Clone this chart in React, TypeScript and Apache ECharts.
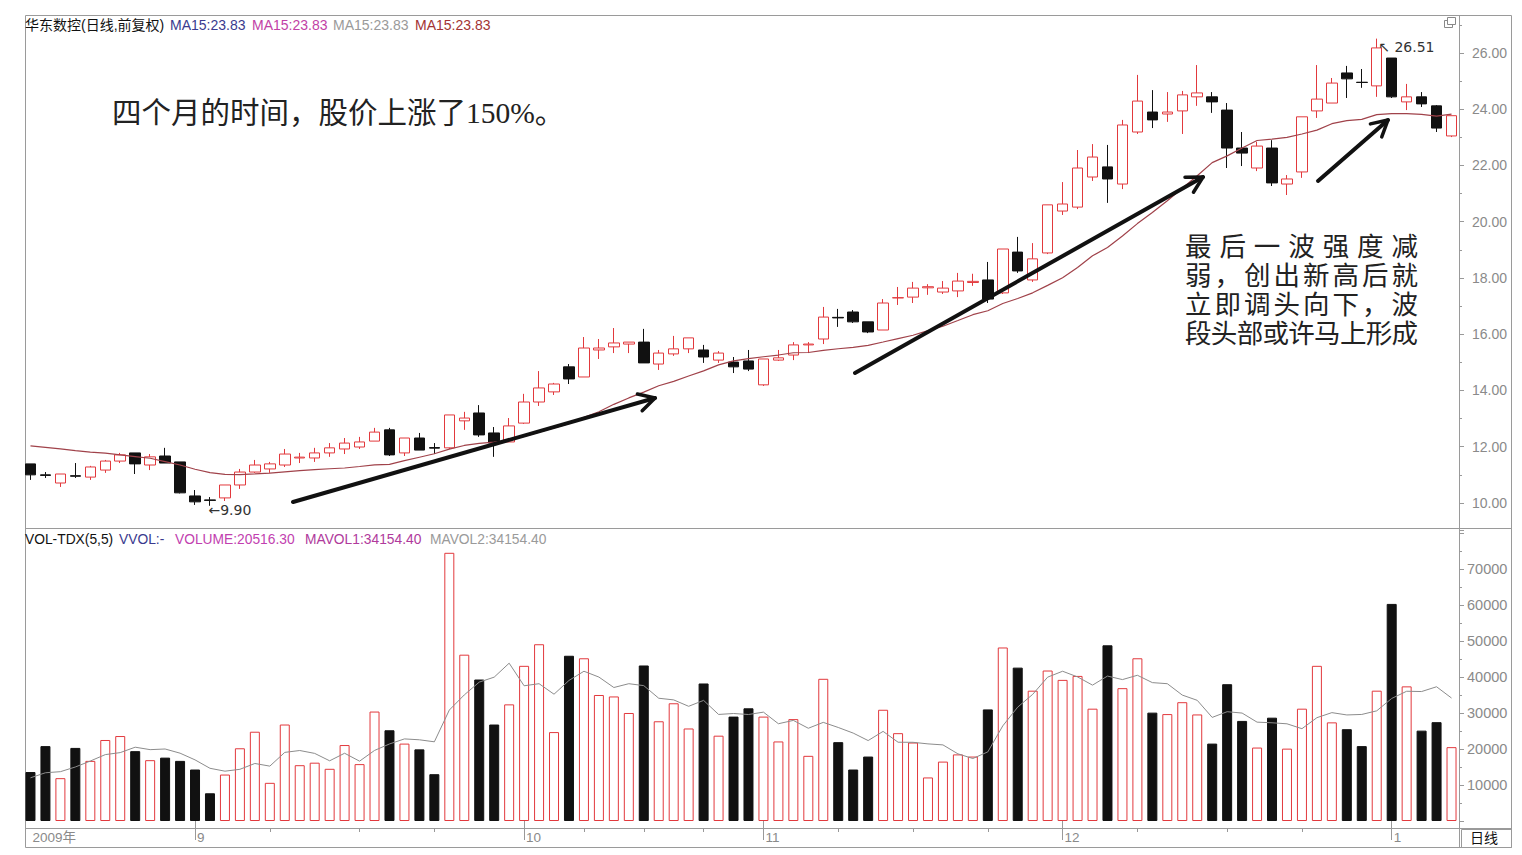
import React, { useEffect, useRef } from 'react';
import * as echarts from 'echarts';

// ---------- data ----------
const opens = [11.39, 11.00, 10.71, 10.97, 10.92, 11.17, 11.49, 11.78, 11.35, 11.67,
  11.46, 10.25, 10.11, 10.18, 10.64, 11.10, 11.21, 11.35, 11.60, 11.60,
  11.78, 11.92, 11.99, 12.20, 12.60, 11.78, 12.31, 11.97, 11.96, 12.92,
  13.20, 12.49, 12.17, 12.84, 13.59, 13.95, 14.84, 14.48, 15.44, 15.55,
  15.65, 15.72, 14.94, 15.30, 15.48, 15.44, 15.08, 15.01, 15.05, 14.20,
  15.08, 15.26, 15.62, 15.83, 16.60, 16.79, 16.44, 16.15, 17.29, 17.32,
  17.65, 17.50, 17.54, 17.84, 17.93, 17.47, 18.92, 17.93, 18.89, 20.38,
  20.52, 21.59, 21.95, 21.34, 23.19, 23.90, 23.83, 23.94, 24.44, 24.44,
  23.97, 22.62, 21.91, 22.62, 21.34, 21.77, 23.94, 24.22, 25.29, 24.96,
  24.83, 25.82, 24.26, 24.44, 24.12, 23.05];
const closes = [11.00, 10.98, 11.03, 10.95, 11.28, 11.49, 11.71, 11.39, 11.64, 11.42,
  10.36, 10.04, 10.09, 10.64, 11.10, 11.35, 11.39, 11.74, 11.63, 11.78,
  11.96, 12.13, 12.17, 12.52, 11.71, 12.31, 11.88, 11.95, 13.13, 13.02,
  12.42, 12.13, 12.74, 13.59, 14.09, 14.23, 14.41, 15.51, 15.51, 15.69,
  15.72, 14.98, 15.33, 15.48, 15.87, 15.19, 15.33, 14.84, 14.76, 15.12,
  15.16, 15.62, 15.65, 16.61, 16.58, 16.44, 16.08, 17.11, 17.30, 17.64,
  17.69, 17.64, 17.89, 17.88, 17.25, 19.03, 18.25, 18.68, 20.60, 20.63,
  21.91, 22.30, 21.52, 23.44, 24.29, 23.62, 23.90, 24.51, 24.58, 24.26,
  22.62, 22.44, 22.69, 21.38, 21.52, 23.73, 24.36, 24.93, 25.08, 24.95,
  26.18, 24.44, 24.44, 24.19, 23.33, 23.77];
const lows = [10.82, 10.89, 10.57, 10.89, 10.82, 11.07, 11.42, 11.03, 11.17, 11.42,
  10.34, 9.93, 9.90, 10.07, 10.50, 11.07, 11.07, 11.28, 11.42, 11.46,
  11.64, 11.74, 11.92, 12.20, 11.67, 11.67, 11.88, 11.74, 11.92, 12.60,
  12.35, 11.64, 12.17, 12.81, 13.45, 13.84, 14.23, 14.48, 15.12, 15.33,
  15.33, 14.98, 14.73, 15.23, 15.33, 14.98, 14.98, 14.62, 14.69, 14.16,
  15.05, 15.08, 15.33, 15.65, 16.26, 16.40, 16.04, 16.15, 17.04, 17.11,
  17.40, 17.43, 17.32, 17.72, 17.11, 17.43, 18.18, 17.86, 18.85, 20.24,
  20.45, 21.45, 20.67, 21.16, 23.12, 23.33, 23.55, 23.12, 24.12, 23.87,
  21.91, 21.98, 21.80, 21.27, 20.95, 21.56, 23.69, 24.22, 24.40, 24.76,
  24.44, 24.40, 23.97, 24.08, 23.19, 23.01];
const highs = [11.39, 11.10, 11.03, 11.42, 11.32, 11.53, 11.78, 11.78, 11.74, 11.96,
  11.46, 10.46, 10.21, 10.64, 11.21, 11.53, 11.46, 11.92, 11.78, 11.96,
  12.13, 12.31, 12.35, 12.67, 12.67, 12.31, 12.49, 12.13, 13.13, 13.24,
  13.48, 12.70, 13.02, 13.88, 14.69, 14.27, 14.94, 15.90, 15.83, 16.22,
  15.72, 16.19, 15.44, 15.94, 15.87, 15.62, 15.40, 15.19, 15.44, 15.12,
  15.44, 15.72, 15.72, 16.97, 16.90, 16.86, 16.44, 17.25, 17.68, 17.86,
  17.78, 17.89, 18.18, 18.15, 18.57, 19.03, 19.46, 19.24, 20.60, 21.41,
  22.55, 22.76, 22.73, 23.62, 25.22, 24.68, 24.61, 24.65, 25.57, 24.61,
  24.22, 23.19, 22.84, 22.90, 21.66, 23.73, 25.57, 25.11, 25.54, 25.43,
  26.51, 25.82, 24.90, 24.61, 24.15, 23.77];
const volumes = [13600, 20800, 11900, 20300, 16700, 22500, 23600, 19400, 16900, 17600,
  16700, 14300, 7700, 12900, 20200, 24800, 10600, 26800, 15500, 16200,
  14500, 21100, 15800, 30400, 25200, 21500, 19900, 13000, 74500, 46200,
  39300, 26800, 32400, 43100, 49100, 24700, 45900, 45200, 35000, 34600,
  30000, 43200, 27700, 32700, 25700, 38200, 23700, 29000, 31300, 29000,
  22100, 28300, 18100, 39500, 21900, 14300, 17900, 30900, 24400, 21800,
  12100, 16500, 18500, 17900, 31000, 48200, 42600, 36200, 41800, 39200,
  40300, 31200, 48800, 36900, 45200, 30100, 29700, 33000, 29600, 21500,
  38000, 27800, 20400, 28700, 20100, 31200, 43100, 27400, 25500, 20800,
  36200, 60300, 37400, 25100, 27455.7, 20516.3];
// moving-average values for the first bars (their history lies before the window)
const ma15Head = [12.03, 11.98, 11.92, 11.86, 11.81, 11.77, 11.71, 11.65, 11.59, 11.47, 11.35, 11.20, 11.08, 11.02];
const volMaHead = [12000, 13400, 13700, 15000];
// bottom axis
const monthStarts = [0, 11, 33, 49, 69, 91];
const monthLabels = ['2009年', '9', '10', '11', '12', '1'];
const quarterTicks = [16, 22, 27, 37, 41, 45, 54, 59, 64, 74, 80, 85];
// texts
const stockTitle = '华东数控(日线,前复权)';
const noteLeft = '四个月的时间，股价上涨了150%。';
const noteRight = ['最后一波强度减', '弱，创出新高后就', '立即调头向下，波', '段头部或许马上形成'];

const RED = '#e2393d';
const BLACK = '#111111';
const SANS = "'Liberation Sans', Arial, 'Noto Sans CJK SC', sans-serif";
const SERIF = "'Liberation Serif', 'Noto Sans CJK SC', serif";

function movingAvg(arr: number[], n: number, head: number[]) {
  return arr.map((_, i) => {
    if (i < n - 1) return head[i];
    let s = 0;
    for (let k = i - n + 1; k <= i; k++) s += arr[k];
    return s / n;
  });
}

function arrow(x1: number, y1: number, x2: number, y2: number) {
  const ang = Math.atan2(y2 - y1, x2 - x1);
  const L = 18, a = 0.5;
  const b1 = [x2 - L * Math.cos(ang - a), y2 - L * Math.sin(ang - a)];
  const b2 = [x2 - L * Math.cos(ang + a), y2 - L * Math.sin(ang + a)];
  return [
    { type: 'line', z: 100, shape: { x1, y1, x2, y2 }, style: { stroke: BLACK, lineWidth: 4, lineCap: 'round' } },
    { type: 'polyline', z: 100, shape: { points: [b1, [x2, y2], b2] }, style: { stroke: BLACK, lineWidth: 3.5, fill: 'none', lineJoin: 'round', lineCap: 'round' } },
  ];
}

export default function App() {
  const ref = useRef<HTMLDivElement>(null);
  useEffect(() => {
    document.body.style.margin = '0';
    document.body.style.overflow = 'hidden';
    const chart = echarts.init(ref.current!, null, { renderer: 'svg' });
    const cats = closes.map((_, i) => String(i));
    const candle = opens.map((o, i) => [o, closes[i], lows[i], highs[i]]);
    const ma15 = movingAvg(closes, 15, ma15Head);
    const volMa = movingAvg(volumes, 5, volMaHead);
    const volData = volumes.map((v, i) => {
      const up = closes[i] >= opens[i];
      return { value: v, itemStyle: { color: up ? '#ffffff' : BLACK, borderColor: up ? RED : BLACK, borderWidth: 1 } };
    });
    const last = closes.length - 1;
    const maTxt = 'MA15:' + ma15[last].toFixed(2);

    const graphics: any[] = [];
    // frame
    graphics.push({ type: 'rect', shape: { x: 25.5, y: 15.5, width: 1486, height: 832 }, style: { fill: 'none', stroke: '#9a9a9a', lineWidth: 1 } });
    graphics.push({ type: 'line', shape: { x1: 25, y1: 528.5, x2: 1512, y2: 528.5 }, style: { stroke: '#9a9a9a', lineWidth: 1 } });
    graphics.push({ type: 'line', shape: { x1: 25, y1: 828.5, x2: 1512, y2: 828.5 }, style: { stroke: '#9a9a9a', lineWidth: 1 } });
    graphics.push({ type: 'line', shape: { x1: 1459.5, y1: 15, x2: 1459.5, y2: 848 }, style: { stroke: '#9a9a9a', lineWidth: 1 } });
    graphics.push({ type: 'rect', shape: { x: 1461.5, y: 829.5, width: 50, height: 18 }, style: { fill: 'none', stroke: '#9a9a9a', lineWidth: 1 } });
    graphics.push({ type: 'text', x: 1470, y: 838, style: { text: '日线', font: '14px ' + SANS, fill: '#111', verticalAlign: 'middle' } });
    // small window icon
    graphics.push({ type: 'rect', shape: { x: 1444.5, y: 20.5, width: 8, height: 7 }, style: { fill: '#fff', stroke: '#888', lineWidth: 1 } });
    graphics.push({ type: 'rect', shape: { x: 1447.5, y: 17.5, width: 8, height: 7 }, style: { fill: '#fff', stroke: '#888', lineWidth: 1 } });
    // header texts
    const hdr: [string, number, string][] = [
      [stockTitle, 25, '#111'], [maTxt, 170, '#3a3a8e'], [maTxt, 252, '#c23fa6'], [maTxt, 333, '#9a9a9a'], [maTxt, 415, '#a33333'],
    ];
    hdr.forEach(([t, x, c]) => graphics.push({ type: 'text', x, y: 25, style: { text: t, font: '14px ' + SANS, fill: c, verticalAlign: 'middle' } }));
    const mavol = volMa[last].toFixed(2);
    const vhdr: [string, number, string][] = [
      ['VOL-TDX(5,5)', 25, '#111'], ['VVOL:-', 119, '#3a3a8e'], ['VOLUME:' + volumes[last].toFixed(2), 175, '#c23fb0'],
      ['MAVOL1:' + mavol, 305, '#b03a9c'], ['MAVOL2:' + mavol, 430, '#9a9a9a'],
    ];
    vhdr.forEach(([t, x, c]) => graphics.push({ type: 'text', x, y: 539, style: { text: t, font: '13.8px ' + SANS, fill: c, verticalAlign: 'middle' } }));
    // annotations
    graphics.push({ type: 'text', z: 100, x: 112, y: 113, style: { text: noteLeft, font: '29.5px ' + SERIF, fill: '#222', verticalAlign: 'middle' } });
    const lineY = [247, 276, 305, 334];
    const fs = 26.5, left = 1185, W = 233;
    noteRight.forEach((line, li) => {
      const chars = Array.from(line);
      const step = chars.length > 1 ? (W - fs) / (chars.length - 1) : 0;
      chars.forEach((ch, k) => graphics.push({ type: 'text', z: 100, x: left + k * step, y: lineY[li], style: { text: ch, font: fs + 'px ' + SERIF, fill: '#222', verticalAlign: 'middle' } }));
    });
    graphics.push(...arrow(293, 502, 655, 398));
    graphics.push(...arrow(855, 373, 1203, 177));
    graphics.push(...arrow(1318, 181, 1388, 120));

    const axisGray = '#999';
    chart.setOption({
      animation: false,
      backgroundColor: '#ffffff',
      grid: [
        { left: 23, right: 63, top: 15, height: 513 },
        { left: 23, right: 63, top: 530, bottom: 34 },
      ],
      xAxis: [
        { type: 'category', gridIndex: 0, data: cats, show: false },
        {
          type: 'category', gridIndex: 1, data: cats, position: 'bottom', offset: 7,
          axisLine: { show: false },
          axisTick: { show: true, length: 19, alignWithLabel: true, interval: (i: number) => monthStarts.includes(i) && i > 0, lineStyle: { color: axisGray } },
          axisLabel: {
            show: true, interval: (i: number) => monthStarts.includes(i),
            formatter: (_v: string, i: number) => { const k = monthStarts.indexOf(i); return k >= 0 ? monthLabels[k] : ''; },
            align: 'left', margin: 3, padding: [0, 0, 0, 2], color: '#8a8a8a', fontSize: 13.5, fontFamily: SANS,
          },
          splitLine: { show: false },
        },
        {
          type: 'category', gridIndex: 1, data: cats, position: 'bottom', offset: 7,
          axisLine: { show: false }, axisLabel: { show: false }, splitLine: { show: false },
          axisTick: { show: true, length: 4, alignWithLabel: true, interval: (i: number) => quarterTicks.includes(i), lineStyle: { color: axisGray } },
        },
      ],
      yAxis: [
        {
          type: 'value', gridIndex: 0, position: 'right', min: 9.11, max: 27.35, splitNumber: 9,
          splitLine: { show: false }, axisLine: { show: false },
          axisTick: { show: true, length: 5, lineStyle: { color: axisGray } },
          minorTick: { show: true, splitNumber: 2, length: 3, lineStyle: { color: axisGray } },
          axisLabel: { formatter: (v: number) => v.toFixed(2), color: '#8a8a8a', fontSize: 14, fontFamily: SANS, margin: 13, showMinLabel: false, showMaxLabel: false },
        },
        {
          type: 'value', gridIndex: 1, position: 'right', min: 0, max: 80833, splitNumber: 8,
          splitLine: { show: false }, axisLine: { show: false },
          axisTick: { show: true, length: 5, lineStyle: { color: axisGray } },
          minorTick: { show: true, splitNumber: 2, length: 3, lineStyle: { color: axisGray } },
          axisLabel: { formatter: (v: number) => (v >= 80000 ? '' : String(Math.round(v))), color: '#8a8a8a', fontSize: 14.5, fontFamily: SANS, margin: 8, showMinLabel: false, showMaxLabel: false },
        },
      ],
      series: [
        {
          type: 'candlestick', xAxisIndex: 0, yAxisIndex: 0, data: candle, barWidth: 11,
          itemStyle: { color: '#ffffff', color0: BLACK, borderColor: RED, borderColor0: BLACK, borderWidth: 1 },
          markPoint: {
            symbol: 'circle', symbolSize: 1, itemStyle: { color: 'rgba(0,0,0,0)' }, silent: true,
            label: { show: true, color: '#333', fontSize: 14, fontFamily: "'DejaVu Sans', " + SANS },
            data: [
              { type: 'min', valueDim: 'lowest', label: { position: 'right', distance: 0, offset: [-2, 4], formatter: (p: any) => '←' + Number(p.value).toFixed(2) } },
              { type: 'max', valueDim: 'highest', label: { position: 'right', distance: 0, offset: [1, 8], formatter: (p: any) => '↖ ' + Number(p.value).toFixed(2) } },
            ],
          },
        },
        {
          type: 'line', xAxisIndex: 0, yAxisIndex: 0, data: ma15, symbol: 'none', smooth: false,
          lineStyle: { color: '#a0424a', width: 1.2 }, z: 3,
        },
        { type: 'bar', xAxisIndex: 1, yAxisIndex: 1, data: volData, barWidth: 10 },
        {
          type: 'line', xAxisIndex: 1, yAxisIndex: 1, data: volMa, symbol: 'none',
          lineStyle: { color: '#8c8c8c', width: 1 }, z: 3,
        },
      ],
      graphic: graphics,
    });
    return () => chart.dispose();
  }, []);
  return <div ref={ref} style={{ width: 1522, height: 855 }} />;
}
